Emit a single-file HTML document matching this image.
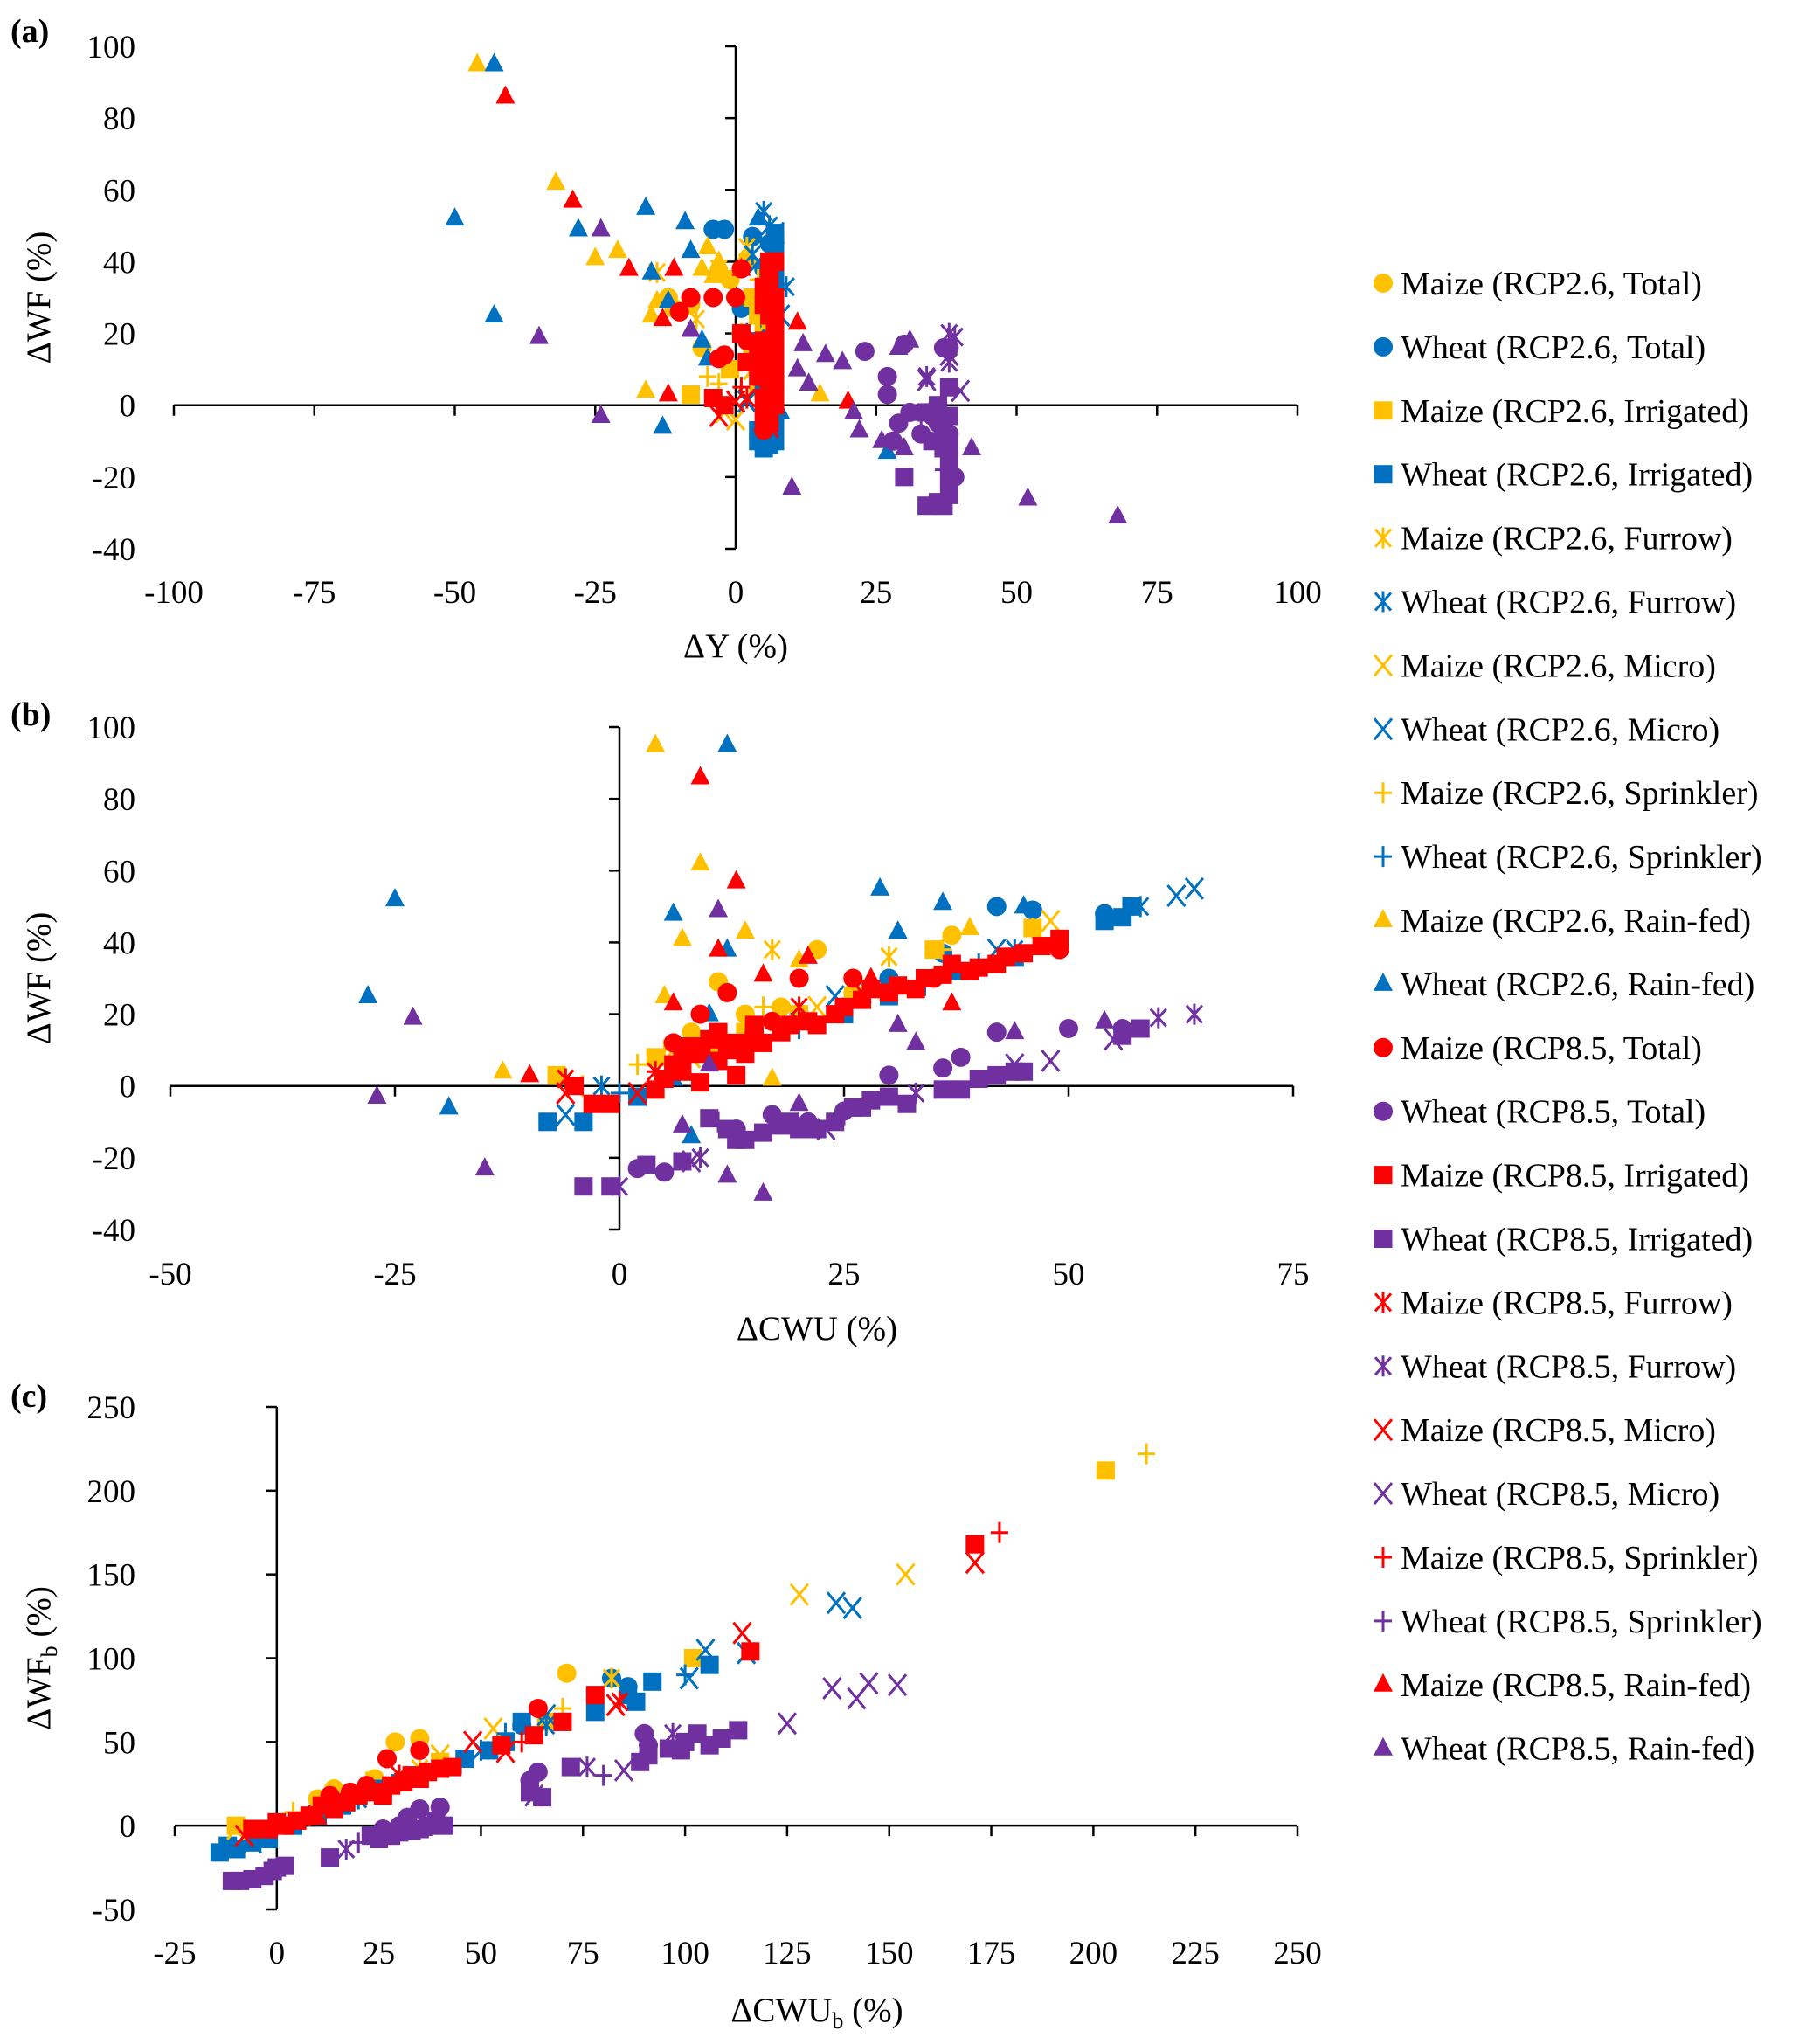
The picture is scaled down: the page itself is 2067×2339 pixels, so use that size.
<!DOCTYPE html>
<html><head><meta charset="utf-8"><style>
html,body{margin:0;padding:0;background:#fff;}
svg, svg text{font-family:"Liberation Serif","Times New Roman","DejaVu Serif",serif;}
svg{display:block;}
</style></head><body>
<svg id="fig" width="2067" height="2339" viewBox="0 0 2067 2339" xmlns="http://www.w3.org/2000/svg" font-family="Liberation Serif, serif"></svg>
<script>
// ---------- Panel (a): dY vs dWF ----------
var a_xTicks=[-100,-75,-50,-25,0,25,50,75,100];
var a_yTicks=[-40,-20,0,20,40,60,80,100];
var a_m26_total=[[-12,30],[-8,28],[-6,16],[-3,37],[-1,35],[1,20],[3,15],[4,25],[-11,27],[2,40]];
var a_w26_total=[[-4,49],[-2,49],[1,27],[3,47],[6,30],[6,45],[5,38]];
var a_m26_irr=[[-8,3],[-1,10],[3,30],[5,20],[7,15],[4,5],[4,25],[6,35]];
var a_w26_irr=[[4,-10],[5,-12],[7,-10],[7,45],[6,30],[5,5],[6,20],[7,40],[6,0],[7,48],[7,35],[7,25],[7,10],[7,-5],[4,-7],[6,-11]];
var a_m26_fur=[[-14,37],[-7,24],[-3,38],[2,44],[4,30],[5,12]];
var a_w26_fur=[[5,54],[6,50],[9,33],[3,42],[7,20]];
var a_m26_mic=[[-2,-2],[0,-4],[3,10],[5,22]];
var a_w26_mic=[[2,1],[4,40],[7,48],[8,25]];
var a_m26_spr=[[-5,8],[-3,6],[1,20],[4,35]];
var a_w26_spr=[[2,20],[5,15],[7,35]];
var a_m26_rain=[[-46,95],[-32,62],[-25,41],[-21,43],[-16,4],[-15,25],[-5,44],[-6,38],[-3,40],[15,3],[-4,36],[-14,29]];
var a_w26_rain=[[-43,95],[-50,52],[-43,25],[-28,49],[-16,55],[-15,37],[-9,51],[-8,43],[-13,-6],[-6,18],[4,52],[8,-2],[27,-13],[-5,13],[-12,29]];
var a_m85_total=[[-10,26],[-8,30],[-4,30],[-2,14],[0,30],[2,18],[4,10],[6,5],[6,-5],[1,38],[-3,13],[5,-7]];
var a_w85_total=[[23,15],[27,8],[27,3],[29,-5],[30,17],[31,-2],[33,-8],[37,16],[38,16],[39,-20],[36,-5],[28,-10],[35,-3],[38,-8]];
var a_m85_irr=[[-4,2],[-2,0],[1,20],[3,12],[5,8],[6,30],[7,40],[7,20],[7,0],[6,35],[6,25],[6,15],[6,10],[6,5],[6,-5],[5,-3],[7,30],[5,28],[5,18],[7,10],[6,40],[5,33],[7,25],[7,15],[7,5],[5,2],[6,-2],[4,16],[4,8],[2,12]];
var a_w85_irr=[[30,-20],[34,-28],[37,-28],[38,-25],[38,-15],[37,-5],[36,0],[38,5],[35,-10],[38,-10],[38,-20],[34,-2],[36,-27],[38,-3],[37,-12]];
var a_m85_fur=[[2,2],[5,-2],[6,15]];
var a_w85_fur=[[38,20],[39,19],[34,8],[38,12],[36,-3]];
var a_m85_mic=[[-3,-3],[0,1],[6,-6]];
var a_w85_mic=[[34,7],[40,4],[38,14],[36,-2]];
var a_m85_spr=[[1,5],[4,12]];
var a_w85_spr=[[37,-18],[33,-4]];
var a_m85_rain=[[-41,86],[-29,57],[-19,38],[-13,24],[-12,3],[-11,38],[1,38],[11,23],[20,1]];
var a_w85_rain=[[-24,49],[-35,19],[-24,-3],[-8,21],[10,-23],[12,17],[16,14],[19,12],[21,-2],[22,-7],[29,16],[31,18],[42,-12],[52,-26],[68,-31],[11,10],[13,6],[26,-10],[30,-12]];

// ---------- Panel (b): dCWU vs dWF ----------
var b_xTicks=[-50,-25,0,25,50,75];
var b_yTicks=[-40,-20,0,20,40,60,80,100];
var b_m26_total=[[11,29],[22,38],[37,42],[18,22],[30,30],[8,15],[14,20],[26,26]];
var b_w26_total=[[42,50],[46,49],[54,48],[30,30],[20,20],[36,37],[15,16],[25,22]];
var b_m26_irr=[[-7,3],[4,8],[14,15],[26,25],[35,38],[46,44],[20,20],[10,12]];
var b_w26_irr=[[-8,-10],[-4,-10],[2,-3],[12,10],[25,20],[38,32],[54,46],[57,50],[56,47],[18,15],[30,25],[44,36],[6,4]];
var b_m26_fur=[[-6,2],[6,10],[17,38],[30,36],[46,44]];
var b_w26_fur=[[-2,0],[20,18],[44,38],[58,50]];
var b_m26_mic=[[-5,0],[8,8],[22,22],[48,46]];
var b_w26_mic=[[-6,-8],[24,25],[42,38],[62,53],[64,55]];
var b_m26_spr=[[2,6],[5,10],[16,22],[36,38]];
var b_w26_spr=[[0,-2],[20,16],[34,28],[40,34]];
var b_m26_rain=[[4,95],[9,62],[7,41],[-13,4],[5,25],[14,43],[20,35],[39,44],[17,2]];
var b_w26_rain=[[12,95],[-25,52],[-28,25],[-19,-6],[6,48],[12,38],[29,55],[36,51],[31,43],[45,50],[10,20],[8,-14],[6,2]];
var b_m85_total=[[12,26],[20,30],[26,30],[49,38],[6,12],[15,15],[35,30],[9,20],[17,18]];
var b_w85_total=[[2,-23],[5,-24],[17,-8],[25,-7],[36,5],[38,8],[42,15],[50,16],[56,16],[13,-12],[21,-10],[30,3]];
var b_m85_irr=[[-5,0],[-3,-5],[-1,-5],[4,-1],[7,4],[9,9],[11,7],[13,12],[15,14],[18,15],[21,18],[24,20],[27,24],[30,26],[33,27],[36,31],[39,32],[42,34],[45,37],[49,41],[9,1],[13,3],[6,6],[8,11],[10,13],[12,10],[14,9],[16,12],[19,17],[22,17],[25,22],[28,27],[31,28],[34,30],[37,34],[40,33],[43,36],[47,39],[5,2],[7,9],[11,15],[15,17]];
var b_w85_irr=[[-4,-28],[-1,-28],[3,-22],[7,-21],[13,-15],[16,-13],[20,-12],[24,-10],[26,-6],[28,-4],[32,-5],[38,-1],[42,3],[45,4],[56,14],[58,16],[10,-9],[12,-12],[18,-11],[22,-12],[27,-6],[30,-3],[36,-1],[40,2],[44,4],[14,-15],[19,-10]];
var b_m85_fur=[[-6,2],[4,4],[20,22]];
var b_w85_fur=[[0,-28],[9,-20],[33,-2],[60,19],[64,20]];
var b_m85_mic=[[-6,-2],[2,-2],[27,26]];
var b_w85_mic=[[8,-21],[23,-12],[44,6],[48,7],[55,13]];
var b_m85_spr=[[4,4],[10,8]];
var b_w85_spr=[[11,-10],[25,-8]];
var b_m85_rain=[[9,86],[13,57],[-10,3],[6,23],[11,38],[16,31],[21,36],[37,23],[28,30]];
var b_w85_rain=[[11,49],[-23,19],[-27,-3],[-15,-23],[12,-25],[16,-30],[10,6],[31,17],[33,12],[44,15],[54,18],[7,-11],[20,-5]];

// ---------- Panel (c): dCWUb vs dWFb ----------
var c_xTicks=[-25,0,25,50,75,100,125,150,175,200,225,250];
var c_yTicks=[-50,0,50,100,150,200,250];
var c_m26_total=[[71,91],[29,50],[35,52],[14,22],[24,28],[10,16]];
var c_w26_total=[[82,88],[86,83],[60,60],[22,22]];
var c_m26_irr=[[203,212],[102,100],[-10,0],[40,38],[66,62]];
var c_w26_irr=[[-14,-16],[-10,-14],[-2,-8],[10,6],[26,22],[46,40],[56,50],[60,62],[78,68],[86,78],[92,86],[106,96],[88,74],[-12,-12],[-6,-10],[4,0],[16,12],[34,30],[52,45],[70,62]];
var c_m26_fur=[[82,88],[35,34],[12,14]];
var c_w26_fur=[[20,16],[66,60],[50,45]];
var c_m26_mic=[[128,138],[154,150],[-10,-2],[53,58],[40,42]];
var c_w26_mic=[[137,133],[141,130],[105,105],[115,103],[101,88],[66,66],[-6,-10]];
var c_m26_spr=[[213,222],[70,70],[4,8],[22,26]];
var c_w26_spr=[[45,37],[56,55],[100,90],[30,30]];
var c_m85_total=[[64,70],[27,40],[35,45],[13,18],[18,20],[22,24]];
var c_w85_total=[[32,5],[35,10],[40,11],[62,27],[64,32],[90,55],[91,48],[26,-2],[30,0]];
var c_m85_irr=[[171,168],[116,104],[78,78],[70,62],[63,54],[55,48],[43,35],[35,28],[28,24],[20,18],[14,10],[8,6],[2,0],[-6,-2],[5,3],[24,20],[37,32],[11,12],[17,14],[31,26],[40,34],[0,2],[-2,-2],[26,18],[33,30]];
var c_w85_irr=[[-11,-33],[-6,-32],[-1,-27],[2,-24],[13,-19],[25,-8],[28,-6],[33,-3],[37,0],[41,0],[62,20],[65,17],[72,35],[89,38],[96,46],[103,55],[106,48],[113,57],[99,45],[-9,-33],[-3,-30],[0,-25],[23,-6],[30,-4],[35,-2],[39,3],[91,42],[100,50],[109,52]];
var c_m85_fur=[[30,30],[84,74]];
var c_w85_fur=[[17,-14],[76,35],[97,55]];
var c_m85_mic=[[171,157],[114,115],[48,50],[83,72],[-8,-6],[56,44]];
var c_w85_mic=[[125,61],[136,82],[142,76],[145,85],[152,84],[85,33],[63,18]];
var c_m85_spr=[[177,175],[60,50],[8,6]];
var c_w85_spr=[[20,-10],[80,30]];
var c_m85_rain=[[10,5],[30,25]];
var c_w85_rain=[[30,0],[36,-2]];

var COLORS={m26:'#FFC000',w26:'#0070C0',m85:'#FF0000',w85:'#7030A0'};
var SER=[
 ['m26','total','circle','Maize (RCP2.6, Total)'],['w26','total','circle','Wheat (RCP2.6, Total)'],
 ['m26','irr','square','Maize (RCP2.6, Irrigated)'],['w26','irr','square','Wheat (RCP2.6, Irrigated)'],
 ['m26','fur','star','Maize (RCP2.6, Furrow)'],['w26','fur','star','Wheat (RCP2.6, Furrow)'],
 ['m26','mic','x','Maize (RCP2.6, Micro)'],['w26','mic','x','Wheat (RCP2.6, Micro)'],
 ['m26','spr','plus','Maize (RCP2.6, Sprinkler)'],['w26','spr','plus','Wheat (RCP2.6, Sprinkler)'],
 ['m26','rain','tri','Maize (RCP2.6, Rain-fed)'],['w26','rain','tri','Wheat (RCP2.6, Rain-fed)'],
 ['m85','total','circle','Maize (RCP8.5, Total)'],['w85','total','circle','Wheat (RCP8.5, Total)'],
 ['m85','irr','square','Maize (RCP8.5, Irrigated)'],['w85','irr','square','Wheat (RCP8.5, Irrigated)'],
 ['m85','fur','star','Maize (RCP8.5, Furrow)'],['w85','fur','star','Wheat (RCP8.5, Furrow)'],
 ['m85','mic','x','Maize (RCP8.5, Micro)'],['w85','mic','x','Wheat (RCP8.5, Micro)'],
 ['m85','spr','plus','Maize (RCP8.5, Sprinkler)'],['w85','spr','plus','Wheat (RCP8.5, Sprinkler)'],
 ['m85','rain','tri','Maize (RCP8.5, Rain-fed)'],['w85','rain','tri','Wheat (RCP8.5, Rain-fed)']
];

var SVGNS='http://www.w3.org/2000/svg';
var FIG=document.getElementById('fig');
var FF='"Liberation Serif", "Times New Roman", serif';
function mk(tag,attrs,parent){
  var e=document.createElementNS(SVGNS,tag);
  for(var k in attrs){e.setAttribute(k,String(attrs[k]));}
  if(tag==='text'){e.style.fontFamily=FF;}
  (parent||FIG).appendChild(e);
  return e;
}
function getSeries(id,a,b){
  var name=id+'_'+a+'_'+b;
  return (typeof window[name]!=='undefined')?window[name]:[];
}
function drawMarker(g,shape,col,cx,cy){
  var e;
  if(shape==='circle'){e=mk('circle',{cx:cx,cy:cy,r:11,fill:col},g);}
  else if(shape==='square'){e=mk('rect',{x:cx-10.5,y:cy-10.5,width:21,height:21,fill:col},g);}
  else if(shape==='tri'){e=mk('polygon',{points:cx+','+(cy-13)+' '+(cx+11)+','+(cy+8)+' '+(cx-11)+','+(cy+8),fill:col},g);}
  else if(shape==='x'){e=mk('path',{d:'M'+(cx-10)+','+(cy-12)+'L'+(cx+10)+','+(cy+12)+'M'+(cx+10)+','+(cy-12)+'L'+(cx-10)+','+(cy+12),stroke:col,'stroke-width':3,fill:'none'},g);}
  else if(shape==='plus'){e=mk('path',{d:'M'+(cx-10)+','+cy+'L'+(cx+10)+','+cy+'M'+cx+','+(cy-12)+'L'+cx+','+(cy+12),stroke:col,'stroke-width':3,fill:'none'},g);}
  else {e=mk('path',{d:'M'+(cx-9)+','+(cy-10)+'L'+(cx+9)+','+(cy+10)+'M'+(cx+9)+','+(cy-10)+'L'+(cx-9)+','+(cy+10)+'M'+cx+','+(cy-12)+'L'+cx+','+(cy+12),stroke:col,'stroke-width':3,fill:'none'},g);}
  return e;
}
function addTitle(parent,x,y,main,sub,rot){
  var attrs={x:x,y:y,'text-anchor':'middle','font-size':39};
  if(rot){attrs.transform='rotate(-90 '+x+' '+y+')';}
  var t=mk('text',attrs,parent);
  var s1=mk('tspan',{},t); s1.textContent=main;
  if(sub){
    var s2=mk('tspan',{'font-size':26,dy:8},t); s2.textContent='b';
    var s3=mk('tspan',{dy:-8},t); s3.textContent=' (%)';
  }
  return t;
}
function panel(id,x0,x1,px0,px1,y0,y1,py0,py1,xTicks,yTicks,xMain,yMain,sub,tickLabelY,xTitleX,xTitleY,labelY){
  function sx(v){return px0+(v-x0)/(x1-x0)*(px1-px0);}
  function sy(v){return py0+(v-y0)/(y1-y0)*(py1-py0);}
  var g=mk('g',{});
  
  
  var ax=mk('g',{stroke:'#000','stroke-width':2.5,fill:'none'},g);
  
  
  var zx=sx(0),zy=sy(0);
  mk('line',{x1:sx(x0),y1:zy,x2:sx(x1),y2:zy},ax);
  mk('line',{x1:zx,y1:sy(y0),x2:zx,y2:sy(y1)},ax);
  var tl=mk('g',{'font-size':37,fill:'#000'},g);
  
  
  xTicks.forEach(function(t){
    mk('line',{x1:sx(t),y1:zy,x2:sx(t),y2:zy+12},ax);
    var tx=mk('text',{x:sx(t),y:tickLabelY,'text-anchor':'middle','font-size':37},tl);tx.textContent=String(t);
  });
  yTicks.forEach(function(t){
    mk('line',{x1:zx-12,y1:sy(t),x2:zx,y2:sy(t)},ax);
    var tx=mk('text',{x:155,y:sy(t)+13,'text-anchor':'end','font-size':37},tl);tx.textContent=String(t);
  });
  var xt=addTitle(g,xTitleX,xTitleY,xMain,sub,false);
  
  
  var ymid=(sy(y0)+sy(y1))/2;
  var yt=addTitle(g,57,ymid,yMain,sub,true);
  
  
  var pl=mk('text',{x:12,y:labelY,'font-size':38,'font-weight':'bold'},g);
  
  
  pl.textContent='('+id+')';
  var mg=mk('g',{},g);
  
  
  SER.forEach(function(s){
    var arr=getSeries(id,s[0],s[1]);
    arr.forEach(function(p){
      var m=drawMarker(mg,s[2],COLORS[s[0]],sx(p[0]),sy(p[1]));
      
      
    });
  });
}
try{
panel('a',-100,100,199,1485,-40,100,628,53,a_xTicks,a_yTicks,'ΔY (%)','ΔWF (%)',false,690,842,752,48);
panel('b',-50,75,195,1480,-40,100,1407,832,b_xTicks,b_yTicks,'ΔCWU (%)','ΔWF (%)',false,1470,935,1533,830);
panel('c',-25,250,200,1485,-50,250,2185,1610,c_xTicks,c_yTicks,'ΔCWU','ΔWF',true,2247,935,2313,1610);

var lg=mk('g',{'font-size':38});


SER.forEach(function(s,i){
  var y=324+i*72.9;
  var e=mk('g',{},lg);
  
  
  drawMarker(e,s[2],COLORS[s[0]],1583,y);
  var t=mk('text',{x:1603,y:y+13,'font-size':38},e);t.textContent=s[3];
});
}catch(err){
  var et=mk('text',{x:20,y:1200,'font-size':30,fill:'#000'});et.textContent='ERR '+err.message;
}
</script>
</body></html>
